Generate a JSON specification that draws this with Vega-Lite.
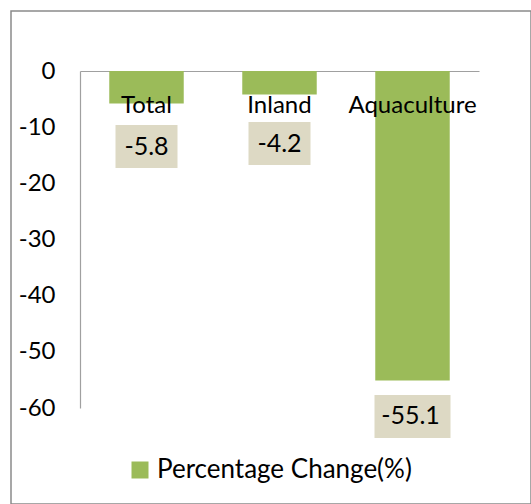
{
  "$schema": "https://vega.github.io/schema/vega-lite/v6.json",
  "width": 520,
  "height": 493,
  "autosize": {"type": "none"},
  "padding": {"left": 11, "top": 11, "right": 0, "bottom": 0},
  "background": "white",
  "config": {
    "view": {"stroke": "#8a8a8a", "strokeWidth": 1.5},
    "font": "Lato",
    "text": {"font": "Lato"}
  },
  "data": {
    "values": [
      {"category": "Total", "value": -5.8},
      {"category": "Inland", "value": -4.2},
      {"category": "Aquaculture", "value": -55.1}
    ]
  },
  "encoding": {
    "x": {
      "field": "category",
      "type": "nominal",
      "sort": ["Total", "Inland", "Aquaculture"],
      "scale": {"range": [69, 468], "paddingInner": 0.44, "paddingOuter": 0.22},
      "axis": {"orient": "top", "offset": -60, "labels": false, "ticks": false, "title": null, "domainColor": "#a0a0a0", "domainWidth": 1.2}
    }
  },
  "layer": [
    {
      "mark": {"type": "bar", "cornerRadius": 0},
      "encoding": {
        "y": {
          "field": "value",
          "type": "quantitative",
          "scale": {"domain": [-60, 0], "range": [397, 60], "nice": false, "zero": false},
          "axis": {"orient": "left", "offset": -69, "values": [0, -10, -20, -30, -40, -50, -60], "labelExpr": "toString(datum.value)", "ticks": false, "grid": false, "title": null, "labelFontSize": 24, "labelColor": "#000000", "labelPadding": 25, "labelFont": "Lato", "domainColor": "#a0a0a0", "domainWidth": 1.2}
        },
        "color": {
          "datum": "Percentage Change(%)",
          "type": "nominal",
          "scale": {"range": ["#9BBB59"]},
          "legend": {"title": null, "orient": "none", "legendX": 116, "legendY": 446, "symbolType": "square", "symbolSize": 289, "symbolStrokeWidth": 0, "labelFontSize": 26, "labelFont": "Lato", "labelColor": "#000000", "labelLimit": 0, "padding": 0, "labelOffset": 4}
        }
      }
    },
    {
      "mark": {"type": "text", "fontSize": 24, "baseline": "middle", "align": "center", "color": "#000000"},
      "encoding": {
        "y": {"datum": -6.2, "type": "quantitative"},
        "text": {"field": "category"}
      }
    },
    {
      "transform": [{"filter": "datum.category === 'Total'"}],
      "encoding": {
        "y": {"field": "value", "type": "quantitative"},
        "yOffset": {"value": 43}
      },
      "layer": [
        {
          "mark": {"type": "point", "filled": true, "opacity": 1, "color": "#DDD9C4", "strokeWidth": 0, "shape": "M-1,-0.694H1V0.694H-1Z", "size": 3844}
        },
        {
          "mark": {"type": "text", "fontSize": 25, "baseline": "middle", "align": "center", "color": "#000000"},
          "encoding": {"text": {"field": "value", "type": "nominal"}}
        }
      ]
    },
    {
      "transform": [{"filter": "datum.category === 'Inland'"}],
      "encoding": {
        "y": {"field": "value", "type": "quantitative"},
        "yOffset": {"value": 49}
      },
      "layer": [
        {
          "mark": {"type": "point", "filled": true, "opacity": 1, "color": "#DDD9C4", "strokeWidth": 0, "shape": "M-1,-0.694H1V0.694H-1Z", "size": 3844}
        },
        {
          "mark": {"type": "text", "fontSize": 25, "baseline": "middle", "align": "center", "color": "#000000"},
          "encoding": {"text": {"field": "value", "type": "nominal"}}
        }
      ]
    },
    {
      "transform": [{"filter": "datum.category === 'Aquaculture'"}],
      "encoding": {
        "y": {"field": "value", "type": "quantitative"},
        "yOffset": {"value": 36}
      },
      "layer": [
        {
          "mark": {"type": "point", "filled": true, "opacity": 1, "color": "#DDD9C4", "strokeWidth": 0, "shape": "M-1,-0.566H1V0.566H-1Z", "size": 5776}
        },
        {
          "mark": {"type": "text", "fontSize": 25, "baseline": "middle", "align": "center", "color": "#000000", "dx": -2},
          "encoding": {"text": {"field": "value", "type": "nominal"}}
        }
      ]
    }
  ]
}
